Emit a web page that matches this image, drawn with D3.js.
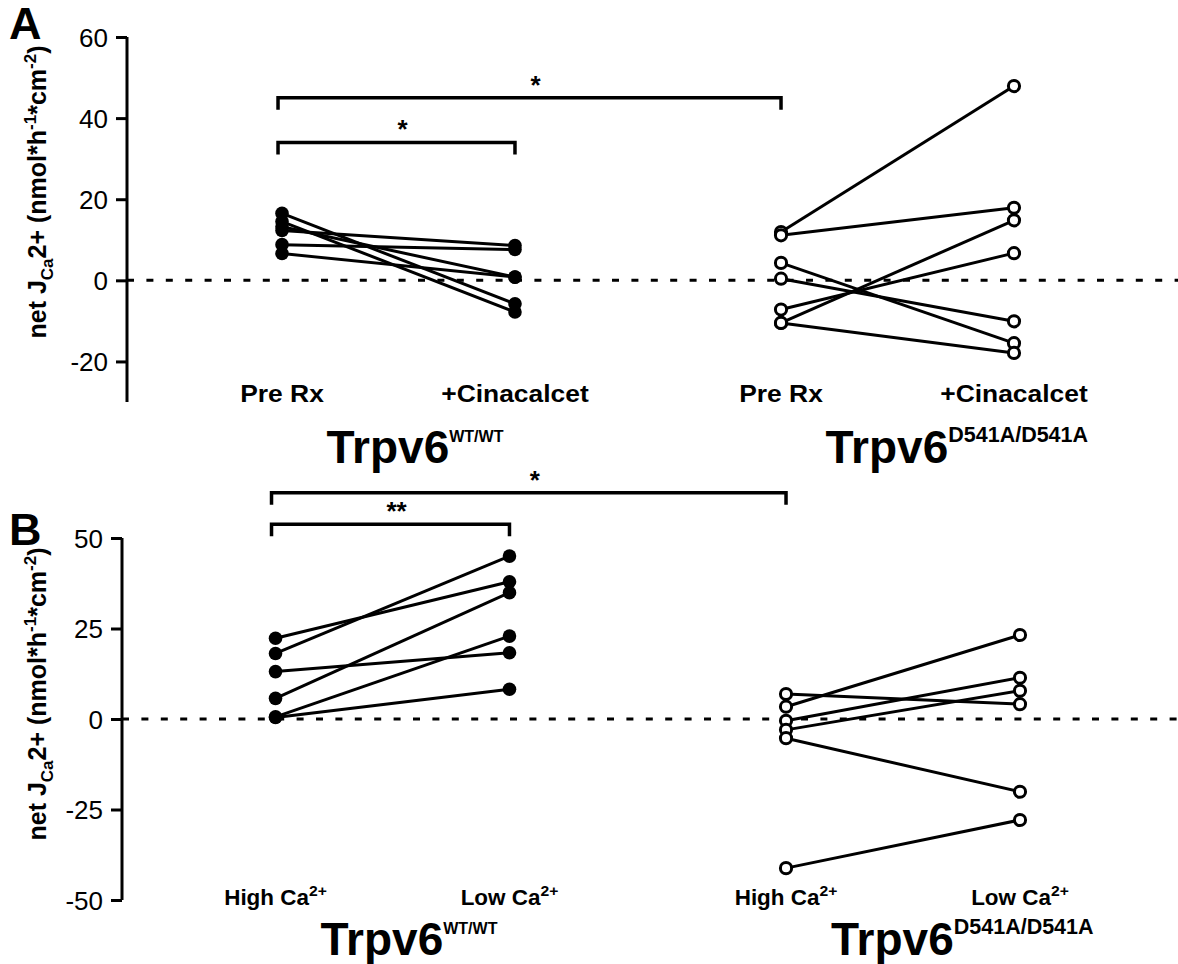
<!DOCTYPE html>
<html><head><meta charset="utf-8">
<script src="https://cdn.jsdelivr.net/npm/d3@7"></script>
<style>body{margin:0;background:#fff} svg{display:block} text{font-family:"Liberation Sans",Arial,Helvetica,sans-serif;fill:#000}</style>
</head><body><svg id="c" width="1178" height="964"></svg>
<script>
// ---------- data ----------
const groups = ["WT/WT", "D541A/D541A"];
const conditionsA = ["Pre Rx", "+Cinacalcet"];
const conditionsB = ["High Ca", "Low Ca"];
const ticksA = [-20, 0, 20, 40, 60];
const ticksB = [-50, -25, 0, 25, 50];
const wtPreRx       = [16.5, 14.5, 13.2, 12.3, 8.8, 6.6];
const wtCinacalcet  = [-5.8, -7.8, 0.8, 8.6, 7.6, 0.8];
const mutPreRx      = [11.9, 11.1, 4.3, 0.4, -7.2, -10.5, -10.5];
const mutCinacalcet = [47.9, 17.9, -15.5, -10.1, 6.7, 14.8, -17.9];
const wtHighCa      = [22.3, 18.1, 13.1, 5.7, 0.6, 0.4];
const wtLowCa       = [37.9, 45.0, 18.3, 34.9, 22.9, 8.2];
const mutHighCa     = [3.4, 6.9, -0.5, -3.0, -5.3, -41.2];
const mutLowCa      = [23.2, 4.1, 11.4, 7.8, -20.1, -27.9];
const sigA = [{g1: 0, c1: 0, g2: 1, c2: 0, level: 45, label: "*"},
              {g1: 0, c1: 0, g2: 0, c2: 1, level: 34, label: "*"}];
const sigB = [{g1: 0, c1: 0, g2: 1, c2: 0, level: 62.5, label: "*"},
              {g1: 0, c1: 0, g2: 0, c2: 1, level: 53.8, label: "**"}];

// ---------- layout ----------
const panels = [
  {letter: "A", conds: conditionsA, sup: false, ticks: ticksA, domain: [-30, 60], yRange: [402, 37], axisX: 127,
   band: [149, 1147], inner: 0.571, series: [[wtPreRx, wtCinacalcet], [mutPreRx, mutCinacalcet]], sig: sigA,
   catY: 402, grpY: 463, labelY: 192, letterY: 39, catSize: 24, catStretch: 1.1},
  {letter: "B", conds: conditionsB, sup: true, ticks: ticksB, domain: [-50, 50], yRange: [900, 538], axisX: 122,
   band: [137.25, 1158.25], inner: 0.591, series: [[wtHighCa, wtLowCa], [mutHighCa, mutLowCa]], sig: sigB,
   catY: 905, grpY: 955, labelY: 694, letterY: 545, catSize: 22, catStretch: 1.02}
];

const svg = d3.select("#c");

panels.forEach(p => {
  const g = svg.append("g");
  const y = d3.scaleLinear().domain(p.domain).range(p.yRange);
  const gx = d3.scaleBand().domain(groups).range(p.band);
  const cx = d3.scalePoint().domain(p.conds).range([0, gx.bandwidth()]).padding(p.inner);
  const X = (gi, ci) => gx(groups[gi]) + cx(p.conds[ci]);

  // zero dotted line
  g.append("line").attr("x1", p.axisX).attr("x2", 1178).attr("y1", y(0)).attr("y2", y(0))
    .attr("stroke", "#000").attr("stroke-width", 3).attr("stroke-dasharray", "7 12.4");

  // axis
  const axis = d3.axisLeft(y).tickValues(p.ticks).tickSize(11).tickPadding(8).tickFormat(d => String(d));
  const ag = g.append("g").attr("transform", `translate(${p.axisX},0)`).call(axis);
  ag.select(".domain").attr("d", `M0,${p.yRange[0]}V${p.yRange[1]}`).attr("stroke-width", 3);
  ag.selectAll(".tick line").attr("stroke-width", 3);
  ag.selectAll(".tick text").attr("font-size", 26).attr("font-family", '"Liberation Sans",Arial,sans-serif').attr("dy", "0.36em");

  // y label
  const yl = g.append("text").attr("transform", `translate(46,${p.labelY}) rotate(-90)`)
    .attr("text-anchor", "middle").attr("font-size", 25).attr("font-weight", "bold");
  yl.append("tspan").text("net J");
  yl.append("tspan").attr("font-size", 17).attr("dy", 7).text("Ca");
  yl.append("tspan").attr("dy", -7).text("2+ (nmol*h");
  yl.append("tspan").attr("font-size", 17).attr("dy", -10).text("-1");
  yl.append("tspan").attr("dy", 10).text("*cm");
  yl.append("tspan").attr("font-size", 17).attr("dy", -10).text("-2");
  yl.append("tspan").attr("dy", 10).text(")");

  // panel letter
  g.append("text").attr("x", 9).attr("y", p.letterY).attr("font-size", 45).attr("font-weight", "bold").text(p.letter);

  // series lines + points
  p.series.forEach((pair, gi) => {
    const rows = pair[0].map((v, i) => [v, pair[1][i]]);
    g.selectAll(null).data(rows).join("line")
      .attr("x1", X(gi, 0)).attr("x2", X(gi, 1))
      .attr("y1", d => y(d[0])).attr("y2", d => y(d[1]))
      .attr("stroke", "#000").attr("stroke-width", 3);
    pair.forEach((vals, ci) => {
      const c = g.selectAll(null).data(vals).join("circle")
        .attr("cx", X(gi, ci)).attr("cy", d => y(d));
      if (gi === 0) c.attr("r", 6.8).attr("fill", "#000");
      else c.attr("r", 5.6).attr("fill", "#fff").attr("stroke", "#000").attr("stroke-width", 3);
    });
  });

  // category labels
  groups.forEach((grp, gi) => {
    p.conds.forEach((c, ci) => {
      const t = g.append("text").attr("transform", `translate(${X(gi, ci)},${p.catY}) scale(${p.catStretch},1)`)
        .attr("text-anchor", "middle").attr("font-size", p.catSize).attr("font-weight", "bold");
      t.append("tspan").text(c);
      if (p.sup) t.append("tspan").attr("font-size", p.catSize * 0.7).attr("dy", -9).text("2+");
    });
    // group label
    const gc = gx(grp) + gx.bandwidth() / 2;
    const gt = g.append("text").attr("x", gc - 72).attr("y", p.grpY).attr("font-size", 46).attr("font-weight", "bold");
    gt.append("tspan").text("Trpv6");
    gt.append("tspan").attr("font-size", gi === 0 ? 16 : 21.5).attr("dy", -21).text(grp);
  });

  // significance brackets
  p.sig.forEach(s => {
    const x1 = X(s.g1, s.c1) - 4, x2 = X(s.g2, s.c2), yy = y(s.level);
    g.append("path").attr("d", `M${x1},${yy + 12}V${yy}H${x2}V${yy + 12}`)
      .attr("fill", "none").attr("stroke", "#000").attr("stroke-width", 3.5);
    g.append("text").attr("x", (x1 + x2) / 2 + 6).attr("y", yy - 4).attr("text-anchor", "middle")
      .attr("font-size", 26).attr("font-weight", "bold").text(s.label);
  });
});
</script></body></html>
